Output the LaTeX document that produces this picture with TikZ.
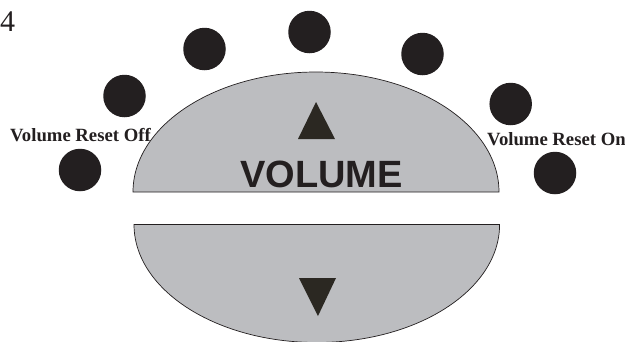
\documentclass[tikz,border=0pt]{standalone}
\usepackage{fontspec}
\setmainfont{Liberation Serif}
\newfontfamily\volfont{Liberation Sans}
\definecolor{ledblack}{HTML}{231F20}
\definecolor{btngray}{HTML}{BCBDC0}
\definecolor{tridark}{HTML}{2B2822}
\begin{document}
\begin{tikzpicture}[x=1pt,y=-1pt,
  led/.style={circle,fill=ledblack,draw=none,minimum size=42.5pt,inner sep=0pt},
  btn/.style={fill=btngray,draw=ledblack,line width=0.7pt},
  tri/.style={fill=tridark,draw=none},
  lbl/.style={anchor=base west,inner sep=0pt,text=ledblack,font=\bfseries\fontsize{18.7}{20}\selectfont}]
\useasboundingbox (0,0) rectangle (625,341);
\fill[white] (0,0) rectangle (625,341);
\path[clip] (0,0) rectangle (625,341);
\draw[btn] (133,192) arc[start angle=180,end angle=360,x radius=183,y radius=120] -- cycle;
\draw[btn] (134,224.5) arc[start angle=180,end angle=0,x radius=182.8,y radius=118] -- cycle;
\fill[tri] (316,102) -- (335,139) -- (298,139) -- cycle;
\fill[tri] (299,278) -- (336,278) -- (318,316) -- cycle;
\node[led] (l1) at (80,170) {};
\node[led] (l2) at (124.5,96) {};
\node[led] (l3) at (204.5,49) {};
\node[led] (l4) at (309.5,32) {};
\node[led] (l5) at (422.5,54) {};
\node[led] (l6) at (510.7,104) {};
\node[led] (l7) at (555,173) {};
\node[anchor=base west,inner sep=0pt,text=ledblack,font=\fontsize{30}{32}\selectfont] (num) at (0,31) {4};
\node[lbl] (off) at (10,141) {Volume Reset Off};
\node[lbl] (on) at (487,145) {Volume Reset On};
\node[anchor=base,inner sep=0pt,text=ledblack,font=\volfont\bfseries\fontsize{38}{40}\selectfont] (vol) at (321.5,187) {VOLUME};
\end{tikzpicture}
\end{document}
